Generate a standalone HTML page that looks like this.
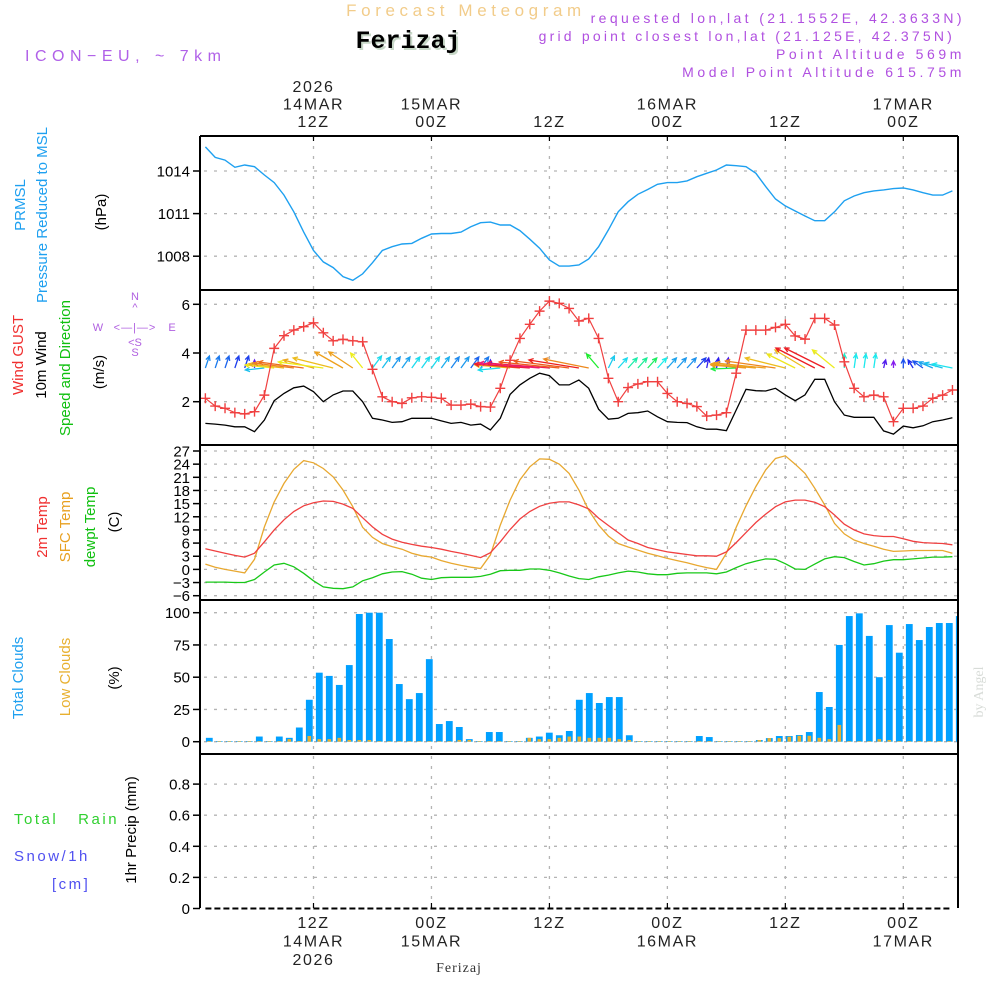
<!DOCTYPE html>
<html><head><meta charset="utf-8"><title>Meteogram Ferizaj</title>
<style>
html,body{margin:0;padding:0;background:#fff;}
svg{display:block;font-family:"Liberation Sans",sans-serif;}
.t{letter-spacing:1.6px;}
</style></head>
<body>
<svg id="chart" width="1000" height="1000" viewBox="0 0 1000 1000" xmlns="http://www.w3.org/2000/svg">
<g>
<text x="466" y="16" text-anchor="middle" font-size="17" fill="#f2cc8a" style="letter-spacing:4.6px">Forecast Meteogram</text>
<text x="410" y="50" text-anchor="middle" font-size="25" font-weight="bold" font-family="Liberation Mono,monospace" fill="#c8d8c8">Ferizaj</text>
<text x="408" y="48" text-anchor="middle" font-size="25" font-weight="bold" font-family="Liberation Mono,monospace" fill="#000">Ferizaj</text>
<text x="25" y="61" font-size="16" fill="#b060e8" style="letter-spacing:5.5px">ICON−EU, ~ 7km</text>
<text x="965" y="23" text-anchor="end" font-size="14" fill="#b050e0" style="letter-spacing:3.4px">requested lon,lat (21.1552E, 42.3633N)</text>
<text x="955" y="41" text-anchor="end" font-size="14" fill="#b050e0" style="letter-spacing:3.2px">grid point closest lon,lat (21.125E, 42.375N)</text>
<text x="965" y="59" text-anchor="end" font-size="14" fill="#b050e0" style="letter-spacing:3.6px">Point Altitude 569m</text>
<text x="965" y="77" text-anchor="end" font-size="14" fill="#b050e0" style="letter-spacing:3.6px">Model Point Altitude 615.75m</text>
</g>
<g font-size="15">
<text transform="translate(25,205) rotate(-90)" text-anchor="middle" fill="#1ea0f0">PRMSL</text>
<text transform="translate(47,215) rotate(-90)" text-anchor="middle" fill="#1ea0f0">Pressure Reduced to MSL</text>
<text transform="translate(106,212) rotate(-90)" text-anchor="middle" fill="#000">(hPa)</text>
<text transform="translate(23,355) rotate(-90)" text-anchor="middle" fill="#f03030">Wind GUST</text>
<text transform="translate(46,365) rotate(-90)" text-anchor="middle" fill="#000">10m Wind</text>
<text transform="translate(70,368) rotate(-90)" text-anchor="middle" fill="#10c010">Speed and Direction</text>
<text transform="translate(104,372) rotate(-90)" text-anchor="middle" fill="#000">(m/s)</text>
<g fill="#b060e0" font-size="11">
<text x="135" y="300" text-anchor="middle">N</text>
<text x="135" y="311" text-anchor="middle">^</text>
<text x="98" y="331" text-anchor="middle">W</text>
<text x="135" y="331" text-anchor="middle" style="letter-spacing:1px">&lt;—|—&gt;</text>
<text x="172" y="331" text-anchor="middle">E</text>
<text x="135" y="346" text-anchor="middle">&lt;S</text>
<text x="135" y="356" text-anchor="middle">S</text>
</g>
<text transform="translate(47,527) rotate(-90)" text-anchor="middle" fill="#f03030">2m Temp</text>
<text transform="translate(70,527) rotate(-90)" text-anchor="middle" fill="#e8a020">SFC Temp</text>
<text transform="translate(95,527) rotate(-90)" text-anchor="middle" fill="#10c010">dewpt Temp</text>
<text transform="translate(119,522) rotate(-90)" text-anchor="middle" fill="#000">(C)</text>
<text transform="translate(23,678) rotate(-90)" text-anchor="middle" fill="#1ea0f0">Total Clouds</text>
<text transform="translate(70,677) rotate(-90)" text-anchor="middle" fill="#e8b030">Low Clouds</text>
<text transform="translate(119,678) rotate(-90)" text-anchor="middle" fill="#000">(%)</text>
<text x="14" y="824" fill="#30d030" style="letter-spacing:2.5px" xml:space="preserve">Total   Rain</text>
<text x="14" y="861" fill="#5050f0" style="letter-spacing:2.5px">Snow/1h</text>
<text x="52" y="889" fill="#5050f0" style="letter-spacing:2.5px">[cm]</text>
<text transform="translate(136,830) rotate(-90)" text-anchor="middle" fill="#000">1hr Precip (mm)</text>
</g>
<text transform="translate(983,692) rotate(-90)" text-anchor="middle" font-size="14" font-family="Liberation Serif,serif" fill="#d8dcd8">by Angel</text>
<text x="459" y="972" text-anchor="middle" font-size="14" font-family="Liberation Serif,serif" fill="#333" style="letter-spacing:1px">Ferizaj</text>
<g id="plot"></g>
</svg>
<script>
// ---- data (hourly, starting 01Z 14MAR) ----
const hours = [1,2,3,4,5,6,7,8,9,10,11,12,13,14,15,16,17,18,19,20,21,22,23,24,25,26,27,28,29,30,31,32,33,34,35,36,37,38,39,40,41,42,43,44,45,46,47,48,49,50,51,52,53,54,55,56,57,58,59,60,61,62,63,64,65,66,67,68,69,70,71,72,73,74,75,76,77];
const pressure = [1015.7,1014.96,1014.77,1014.26,1014.42,1014.3,1013.72,1013.18,1012.3,1011.13,1009.7,1008.4,1007.6,1007.2,1006.56,1006.3,1006.75,1007.54,1008.4,1008.67,1008.86,1008.9,1009.26,1009.56,1009.6,1009.6,1009.7,1010.08,1010.36,1010.4,1010.2,1010.2,1009.8,1009.2,1008.56,1007.73,1007.3,1007.3,1007.38,1007.8,1008.67,1009.85,1011.13,1011.84,1012.36,1012.7,1013.06,1013.18,1013.18,1013.3,1013.6,1013.84,1014.07,1014.42,1014.37,1014.3,1013.84,1012.9,1012.03,1011.54,1011.18,1010.83,1010.5,1010.5,1011.13,1011.9,1012.24,1012.47,1012.6,1012.67,1012.76,1012.8,1012.67,1012.47,1012.3,1012.3,1012.6];
const gust = [2.14,1.82,1.73,1.55,1.5,1.59,2.27,4.19,4.71,4.94,5.08,5.24,4.83,4.5,4.56,4.5,4.46,3.33,2.2,2.0,1.93,2.16,2.2,2.18,2.14,1.86,1.86,1.9,1.8,1.78,2.55,3.7,4.6,5.18,5.72,6.13,6.04,5.83,5.31,5.42,4.6,2.96,2.0,2.58,2.73,2.82,2.82,2.34,2.0,1.93,1.8,1.41,1.45,1.55,3.17,4.94,4.94,4.94,5.05,5.18,4.7,4.57,5.42,5.42,5.15,3.64,2.55,2.2,2.27,2.2,1.18,1.73,1.73,1.82,2.14,2.27,2.48];
const wind10m = [1.11,1.08,1.04,0.97,0.97,0.77,1.25,2.04,2.34,2.57,2.64,2.41,2.0,2.28,2.44,2.44,2.0,1.32,1.25,1.15,1.18,1.32,1.32,1.32,1.21,1.11,1.15,1.04,1.08,0.84,1.32,2.3,2.69,2.96,3.17,3.07,2.69,2.69,2.89,2.55,1.69,1.28,1.32,1.52,1.55,1.62,1.38,1.18,1.15,1.14,0.97,0.87,0.87,0.81,1.66,2.51,2.45,2.44,2.55,2.28,2.04,2.28,2.92,2.92,2.0,1.45,1.36,1.36,1.36,0.8,0.67,1.0,0.93,1.01,1.18,1.25,1.34];
const windU = [0.4,0.4,0.4,0.4,0.4,0,-1.9,-2.9,-3.5,-4,-4.5,-3,-4.5,-4,-2.8,-2.4,-1.2,0.9,0.8,0.8,0.8,0.8,0.8,0.8,0.8,0.8,0.8,0.8,0.8,0,-2.2,-3.5,-4.5,-5.5,-6,-6.2,-6,-5.5,-5,-4.5,-1.2,0.6,0.9,0.9,0.9,0.9,0.9,0.9,0.9,0.9,0.9,0.2,0.2,0.2,-2.5,-3.5,-4.5,-5,-5,-4,-2.8,-3,-3.9,-4,-2.2,0,0.2,0.2,0.2,0.2,0,0,-0.5,-1,-1.4,-1.8,-2];
const windV = [1.2,1.2,1.2,1.2,1.2,0.8,-0.2,0.3,0.4,0.5,0.6,0.8,0.6,1,1.6,1.6,1.5,1.2,1.1,1.1,1.1,1.1,1.1,1.1,1.1,1.1,1.1,1.1,1.1,0.8,-0.2,0.3,0.4,0.4,0.5,0.5,0.6,0.7,0.8,0.9,1.4,1.2,1,1,1,1,1,1,1,1,1,1,1,1,-0.1,0.3,0.4,0.5,0.7,1,1.4,1.8,2,2,1.8,1.4,1.4,1.4,1.4,0.8,0.7,0.9,0.8,0.7,0.6,0.5,0.4];
const t2m = [4.7,4.2,3.7,3.2,2.8,3.7,6.3,9,11.3,13.2,14.5,15.2,15.6,15.5,14.9,13.9,11.8,9.7,8,6.9,6.2,5.7,5.3,5.0,4.6,4.1,3.7,3.2,2.7,3.8,6.3,9.1,11.5,13.2,14.4,15.1,15.4,15.4,14.7,13.8,11.7,10,8.4,6.7,5.9,5.0,4.5,4.0,3.7,3.4,3.1,3.1,3.0,4.0,6.1,8.4,10.7,12.6,14.3,15.4,15.8,15.8,15.3,14.3,12.4,10.3,9.0,8.1,7.7,7.5,7.5,7.0,6.4,6.1,6.0,5.9,5.6];
const tsfc = [1.2,0.5,0.0,-0.4,-0.8,2.3,9.7,15.4,19.6,22.8,24.8,24.3,23,21.1,18.1,14.3,9.6,7.3,5.9,5.2,4.6,3.7,3.1,2.8,2.0,1.4,0.9,0.5,0.2,3.3,10.1,15.8,20.4,23.4,25.2,25.1,24,21.9,18.1,13.5,10.1,7.6,5.9,5.1,4.4,3.7,3.1,2.5,2.0,1.5,0.9,0.4,0.0,3.7,9.6,14.5,18.9,22.7,25.3,25.9,24,21.9,18.5,14.7,10.5,8.1,6.7,5.9,5.3,4.6,4.1,4.2,4.3,4.3,4.3,4.3,3.7];
const dewpt = [-2.9,-2.9,-2.9,-3.0,-3.0,-2.3,-0.6,1.0,1.4,0.6,-0.9,-2.6,-4.0,-4.3,-4.4,-4.0,-2.6,-1.9,-1.0,-0.6,-0.5,-1.1,-2.0,-2.3,-1.9,-1.8,-1.8,-1.8,-1.6,-1.1,-0.3,-0.2,-0.2,0.1,0.1,-0.2,-0.8,-1.5,-2.1,-2.3,-1.7,-1.3,-0.8,-0.4,-0.6,-1.0,-1.2,-1.2,-0.9,-0.8,-0.8,-0.8,-1.0,-0.6,0.4,1.3,1.9,2.4,2.3,1.3,0.1,0.0,1.2,2.4,2.9,2.7,1.8,1.0,1.3,1.9,2.2,2.2,2.4,2.6,2.8,2.8,2.9];
const cloudTotal = [3,0.5,0.5,0.5,0.5,4,0.5,4,3,11,32.5,53.5,51,44,59.4,99,100,100,79.6,44.7,33,37.7,64,13.7,16,11.4,2,0.5,7.5,7.5,0.5,0.5,3,4,7,5,8.3,32.5,37.7,30,34.6,34.6,5,0.5,0.5,0.5,0.5,0.5,0.5,4.4,3.6,0.5,0.5,0.5,0.5,1.3,2.8,4.4,4.4,5.2,7.5,38.5,26.9,75,97.4,99.5,82,50,90.4,69,91.2,78.8,88.9,92,92,97.4];
const cloudLow = [0.5,0.5,0.5,0.5,0.5,0.5,0.5,0.5,2,0.5,4.4,2,2,3,1.3,1.3,1.3,0.5,0.5,0.5,0.5,0.5,0.5,0.5,0.5,1.3,1.3,0.5,0.5,0.5,0.5,0.5,3,2,2,3,4,4,3,3,3,2,1.3,0.5,0.5,0.5,0.5,0.5,0.5,0.5,0.5,0.5,0.5,0.5,0.5,1.3,2.8,2.8,3.9,4.6,4.6,3,2,13,0.5,0.5,0.5,2,1.3,0.5,0.5,0.5,0.5,0.5,0.5,0.5];
const precip = new Array(77).fill(0);
const pTicks = [1008,1011,1014];
const wTicks = [2,4,6];
const tTicks = [-6,-3,0,3,6,9,12,15,18,21,24,27];
const cTicks = [0,25,50,75,100];
const rTicks = [0,0.2,0.4,0.6,0.8];
const timeTicks = [12,24,36,48,60,72];
const topLabels = [["2026","14MAR","12Z"],["15MAR","00Z"],["12Z"],["16MAR","00Z"],["12Z"],["17MAR","00Z"]];
const bottomLabels = [["12Z","14MAR","2026"],["00Z","15MAR"],["12Z"],["00Z","16MAR"],["12Z"],["00Z","17MAR"]];
// speed (m/s) -> hue breakpoints for arrow colouring
const hueSpeeds = [0.7,1.1,1.5,2.0,2.5,2.9,3.2];
const hueValues = [270,210,165,60,35,0,-30];

// ---- scales ----
const X0=200, X1=958;
const xh = h => 195.54 + 9.83*h;
const xb = i => 209.3 + (i-1)*10.0;
const yP = p => 171 + (1014-p)*14.2;
const yW = v => 401.7 - (v-2)*24.35;
const yT = t => 451 + (27-t)*4.385;
const yC = c => 741.7 - c*1.29;
const yR = r => 908.5 - r*155.5;

const NS="http://www.w3.org/2000/svg";
const plot=document.getElementById('plot');
function mk(tag,attrs,parent){const e=document.createElementNS(NS,tag);for(const k in attrs)e.setAttribute(k,attrs[k]);(parent||plot).appendChild(e);return e;}
function hueFor(s){
  if(s<=hueSpeeds[0])return hueValues[0];
  for(let i=1;i<hueSpeeds.length;i++){if(s<=hueSpeeds[i]){const f=(s-hueSpeeds[i-1])/(hueSpeeds[i]-hueSpeeds[i-1]);return hueValues[i-1]+f*(hueValues[i]-hueValues[i-1]);}}
  return hueValues[hueValues.length-1];
}

const defs=mk('defs',{});
const cp=mk('clipPath',{id:'pc'},defs);
mk('rect',{x:X0,y:136,width:X1-X0,height:772},cp);

const grid=mk('g',{stroke:'#b4b4b4','stroke-width':1.3,'stroke-dasharray':'3,7',fill:'none'});


timeTicks.forEach(h=>{mk('line',{x1:xh(h),x2:xh(h),y1:136,y2:908},grid);});
function hgrid(ticks,yf,skip){ticks.forEach(t=>{if(skip&&skip(t))return;mk('line',{x1:X0+4,x2:X1,y1:yf(t),y2:yf(t)},grid);});}
hgrid(pTicks,yP);hgrid(wTicks,yW);hgrid(tTicks,yT);hgrid(cTicks,yC);hgrid(rTicks,yR,t=>t===0);

function yAxis(ticks,yf,fmt,name){
  const g=mk('g',{});
  
  
  ticks.forEach(t=>{
    const y=yf(t);
    mk('line',{x1:193,x2:X0,y1:y,y2:y,stroke:'#000','stroke-width':1.5},g);
    const tx=mk('text',{x:190,y:y+5.5,'text-anchor':'end','font-size':15,fill:'#000'},g);
    tx.textContent=fmt(t);
  });
}
yAxis(pTicks,yP,t=>String(t),'pressure-y-axis');
yAxis(wTicks,yW,t=>String(t),'wind-y-axis');
yAxis(tTicks,yT,t=>(t<0?'−':'')+Math.abs(t),'temp-y-axis');
yAxis(cTicks,yC,t=>String(t),'cloud-y-axis');
yAxis(rTicks,yR,t=>t===0?'0':t.toFixed(1),'precip-y-axis');

const tg=mk('g',{'font-size':16,fill:'#222','text-anchor':'middle'});


timeTicks.forEach((h,i)=>{
  const x=xh(h);
  mk('line',{x1:x,x2:x,y1:136,y2:141,stroke:'#000','stroke-width':1.2},tg);
  mk('line',{x1:x,x2:x,y1:908,y2:903,stroke:'#000','stroke-width':1.2},tg);
  const tl=topLabels[i];
  tl.forEach((s,j)=>{const t=mk('text',{x:x,y:127-(tl.length-1-j)*17.5,class:'t'},tg);t.textContent=s;});
  bottomLabels[i].forEach((s,j)=>{const t=mk('text',{x:x,y:928+j*18.5,class:'t'},tg);t.textContent=s;});
});

function linePath(arr,yf){return arr.map((v,i)=>(i?'L':'M')+xh(hours[i]).toFixed(1)+','+yf(v).toFixed(1)).join('');}
const pl=mk('path',{d:linePath(pressure,yP),stroke:'#1ea0f0','stroke-width':1.4,fill:'none','clip-path':'url(#pc)'});



const ag=mk('g',{'stroke-width':1.3,fill:'none','clip-path':'url(#pc)'});


const K=10, AY=368;
hours.forEach((h,i)=>{
  const s=wind10m[i];
  const hue=hueFor(s);
  const col='hsl('+((hue+360)%360).toFixed(0)+',85%,52%)';
  const x0=xh(h), y0=AY, x1=x0+windU[i]*K, y1=y0-windV[i]*K;
  const ang=Math.atan2(y1-y0,x1-x0);
  const hl=5;
  const a1=ang+Math.PI-0.45, a2=ang+Math.PI+0.45;
  const p=mk('path',{d:`M${x0},${y0}L${x1},${y1}M${x1+hl*Math.cos(a1)},${y1+hl*Math.sin(a1)}L${x1},${y1}L${x1+hl*Math.cos(a2)},${y1+hl*Math.sin(a2)}`,stroke:col},ag);
  
  
});

const wl=mk('path',{d:linePath(wind10m,yW),stroke:'#000','stroke-width':1.3,fill:'none','clip-path':'url(#pc)'});


const gl=mk('path',{d:linePath(gust,yW),stroke:'#f04040','stroke-width':1.2,fill:'none','clip-path':'url(#pc)'});


const gm=mk('g',{stroke:'#f04040','stroke-width':1.4});


gust.forEach((v,i)=>{const x=xh(hours[i]),y=yW(v);
  const m=mk('path',{d:`M${x-5},${y}H${x+5}M${x},${y-5}V${y+5}`},gm);
  
  
});

[[tsfc,'#e8a830','tsfc-line'],[t2m,'#f04040','t2m-line'],[dewpt,'#18c818','dewpt-line']].forEach(([arr,c,n])=>{
  const l=mk('path',{d:linePath(arr,yT),stroke:c,'stroke-width':1.3,fill:'none','clip-path':'url(#pc)'});
  
  
});

const cg=mk('g',{'clip-path':'url(#pc)'});


cloudTotal.forEach((v,i)=>{const x=xb(i+1);
  const r=mk('rect',{x:x-3.4,y:yC(v),width:6.8,height:yC(0)-yC(v),fill:'#00a0ff'},cg);
  
  
});
cloudLow.forEach((v,i)=>{const x=xb(i+1);
  const r=mk('rect',{x:x-1.8,y:yC(v),width:3.6,height:yC(0)-yC(v),fill:'#e8b030'},cg);
  
  
});

const rl=mk('path',{d:linePath(precip,yR),stroke:'#000','stroke-width':2,'stroke-dasharray':'6,3',fill:'none'});



const bg=mk('g',{stroke:'#000','stroke-width':2,fill:'none'});


mk('line',{x1:X0,x2:X0,y1:136,y2:908},bg);
mk('line',{x1:X1,x2:X1,y1:136,y2:908},bg);
[136,290,445,600,754].forEach(y=>mk('line',{x1:X0,x2:X1,y1:y,y2:y},bg));
</script>
</body></html>
